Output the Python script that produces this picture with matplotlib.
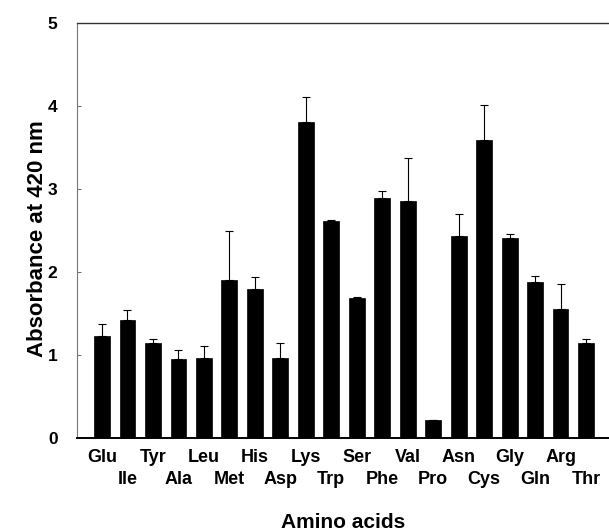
import matplotlib
matplotlib.use("Agg")
import matplotlib.pyplot as plt
import numpy as np

amino = ["Glu", "Ile", "Tyr", "Ala", "Leu", "Met", "His", "Asp", "Lys", "Trp",
         "Ser", "Phe", "Val", "Pro", "Asn", "Cys", "Gly", "Gln", "Arg", "Thr"]
absorb = [1.23, 1.42, 1.15, 0.95, 0.96, 1.90, 1.79, 0.96, 3.81, 2.62,
          1.69, 2.89, 2.86, 0.22, 2.43, 3.59, 2.41, 1.88, 1.55, 1.15]
err_up = [0.14, 0.12, 0.04, 0.11, 0.15, 0.60, 0.15, 0.19, 0.30, 0.01,
          0.01, 0.08, 0.51, 0.00, 0.27, 0.42, 0.05, 0.07, 0.30, 0.04]
yticks = [0, 1, 2, 3, 4, 5]

plt.rcParams['font.family'] = ['Liberation Sans', 'DejaVu Sans']
plt.rcParams['font.weight'] = 'bold'

fig = plt.figure(figsize=(6.09, 5.31), dpi=100)
ax = fig.add_axes([77/609, 1 - 438/531, 1 - 77/609, (438 - 23)/531])

x = np.arange(len(amino))
ax.bar(x, absorb, width=0.62, color='black', edgecolor='black', linewidth=0.5, zorder=2)
ax.errorbar(x, absorb, yerr=[np.zeros(len(x)), err_up], fmt='none', ecolor='black',
            elinewidth=0.8, capsize=3, capthick=0.8, zorder=3)

ax.set_xlim(-0.98, 19.9)
ax.set_ylim(0, 5)
ax.set_yticks(yticks)
ax.set_yticklabels([str(t) for t in yticks], fontsize=12.5, fontweight='bold')

even = x[0::2]
odd = x[1::2]
ax.set_xticks(even)
ax.set_xticklabels(amino[0::2], fontsize=13, fontweight='bold')
ax.set_xticks(odd, minor=True)
ax.set_xticklabels(amino[1::2], minor=True, fontsize=13, fontweight='bold')
ax.tick_params(axis='x', which='major', length=0, pad=8)
ax.tick_params(axis='x', which='minor', length=0, pad=24)
ax.tick_params(axis='y', direction='in', length=3, width=0.6, pad=14, colors='#555555',
               labelcolor='black')

ax.spines['right'].set_visible(False)
ax.spines['top'].set_linewidth(1.0)
ax.spines['top'].set_color('#333333')
ax.spines['left'].set_linewidth(0.8)
ax.spines['left'].set_color('#777777')
ax.spines['bottom'].set_linewidth(1.4)
ax.spines['bottom'].set_color('black')

ax.set_xlabel("Amino acids", fontsize=15, fontweight='bold')
ax.xaxis.set_label_coords(0.5, -(528 - 438) / (438 - 23), transform=ax.transAxes)
ax.xaxis.label.set_verticalalignment('baseline')
ax.set_ylabel("Absorbance at 420 nm", fontsize=16, fontweight='bold')
ax.yaxis.set_label_coords(-(77 - 37) / (609 - 77), 0.5 - 8 / (438 - 23), transform=ax.transAxes)
ax.yaxis.label.set_verticalalignment('center')

fig.savefig("out.png", dpi=100)
